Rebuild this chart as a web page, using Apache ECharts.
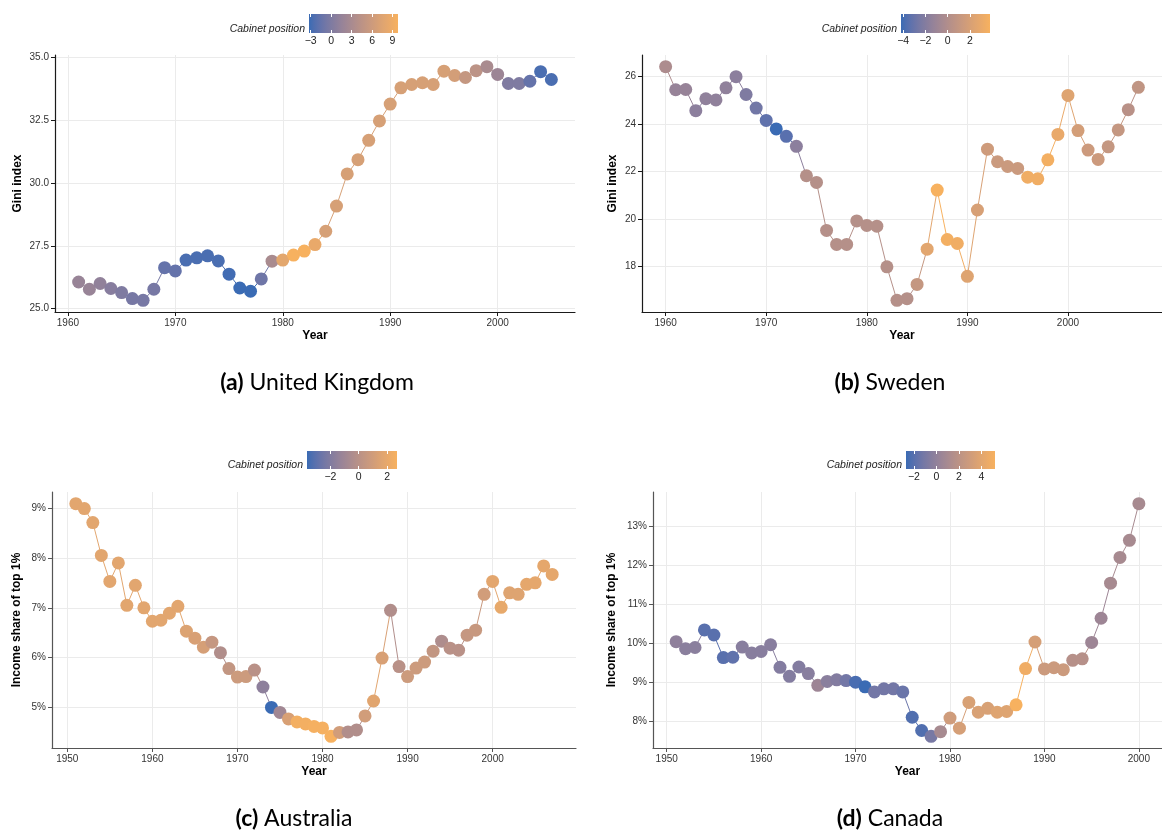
<!DOCTYPE html>
<html><head><meta charset="utf-8">
<script src="https://cdn.jsdelivr.net/npm/echarts@6/dist/echarts.min.js"></script>
<style>html,body{margin:0;padding:0;background:#fff}#c{width:1162px;height:834px}</style>
</head><body><div id="c"></div>
<script>
// ---------------- DATA ----------------
const ukYears = [1961,1962,1963,1964,1965,1966,1967,1968,1969,1970,1971,1972,1973,1974,1975,1976,1977,1978,1979,1980,1981,1982,1983,1984,1985,1986,1987,1988,1989,1990,1991,1992,1993,1994,1995,1996,1997,1998,1999,2000,2001,2002,2003,2004,2005];
const ukGini = [26.06,25.77,26.00,25.80,25.64,25.40,25.33,25.77,26.63,26.50,26.93,27.02,27.10,26.90,26.37,25.82,25.69,26.18,26.89,26.93,27.13,27.29,27.55,28.08,29.08,30.36,30.93,31.70,32.47,33.14,33.79,33.92,33.99,33.92,34.45,34.28,34.20,34.47,34.63,34.32,33.96,33.96,34.05,34.43,34.12];
const ukCabinet = [1.7,1.7,1.2,0.5,0.0,-0.5,-0.5,-0.5,-1.5,-1.5,-2.7,-2.7,-2.7,-2.7,-3.0,-3.25,-3.25,-1.0,3.0,8.0,9.8,9.8,8.5,6.8,6.8,6.8,6.8,6.8,6.8,6.8,6.8,6.8,6.8,6.8,6.8,6.5,5.2,4.5,3.0,2.0,0.0,0.0,-1.5,-2.7,-2.7];

const seYears = [1960,1961,1962,1963,1964,1965,1966,1967,1968,1969,1970,1971,1972,1973,1974,1975,1976,1977,1978,1979,1980,1981,1982,1983,1984,1985,1986,1987,1988,1989,1990,1991,1992,1993,1994,1995,1996,1997,1998,1999,2000,2001,2002,2003,2004,2005,2006,2007];
const seGini = [26.41,25.44,25.45,24.56,25.06,25.01,25.52,25.99,25.24,24.67,24.15,23.79,23.48,23.06,21.82,21.54,19.52,18.93,18.93,19.92,19.73,19.70,17.99,16.58,16.65,17.25,18.73,21.22,19.14,18.97,17.59,20.38,22.94,22.41,22.21,22.13,21.76,21.69,22.49,23.56,25.20,23.72,22.90,22.51,23.04,23.75,24.60,25.54];
const seCabinet = [-0.2,-1.2,-1.2,-1.7,-1.5,-1.5,-1.5,-1.7,-2.2,-2.7,-3.3,-4.2,-3.5,-1.7,0.2,0.2,0.2,0.2,0.2,0.2,0.2,0.2,0.2,0.2,0.2,1.0,2.6,3.8,3.6,3.4,2.4,2.0,1.5,1.3,1.3,1.3,3.4,3.4,3.6,3.0,2.4,1.8,1.4,1.4,1.0,1.0,0.4,0.8];

const auYears = [1951,1952,1953,1954,1955,1956,1957,1958,1959,1960,1961,1962,1963,1964,1965,1966,1967,1968,1969,1970,1971,1972,1973,1974,1975,1976,1977,1978,1979,1980,1981,1982,1983,1984,1985,1986,1987,1988,1989,1990,1991,1992,1993,1994,1995,1996,1997,1998,1999,2000,2001,2002,2003,2004,2005,2006,2007];
const auTop1 = [9.09,8.99,8.71,8.05,7.53,7.90,7.05,7.45,7.00,6.73,6.75,6.89,7.03,6.53,6.39,6.21,6.31,6.10,5.78,5.61,5.62,5.75,5.41,5.00,4.90,4.77,4.71,4.67,4.62,4.59,4.42,4.50,4.51,4.55,4.83,5.13,5.99,6.95,5.82,5.62,5.79,5.91,6.13,6.33,6.19,6.15,6.45,6.55,7.27,7.53,7.01,7.30,7.27,7.47,7.50,7.84,7.67];
const auCabinet = [1.75,1.75,1.75,1.75,1.75,1.75,1.75,1.75,1.75,1.75,1.75,1.75,1.75,1.5,1.3,1.2,0.5,-0.3,0.4,0.8,0.8,0.0,-1.6,-3.65,-0.9,1.3,2.5,2.5,2.6,2.6,2.7,1.0,-0.3,-0.3,1.0,1.7,1.3,-0.3,0.0,0.8,0.8,0.8,0.4,-0.4,0.0,0.0,0.5,0.6,1.0,1.8,2.0,1.6,1.6,1.9,1.9,1.9,1.9];

const caYears = [1951,1952,1953,1954,1955,1956,1957,1958,1959,1960,1961,1962,1963,1964,1965,1966,1967,1968,1969,1970,1971,1972,1973,1974,1975,1976,1977,1978,1979,1980,1981,1982,1983,1984,1985,1986,1987,1988,1989,1990,1991,1992,1993,1994,1995,1996,1997,1998,1999,2000];
const caTop1 = [10.03,9.85,9.88,10.33,10.20,9.62,9.63,9.89,9.74,9.78,9.95,9.37,9.14,9.38,9.21,8.91,9.01,9.05,9.03,8.99,8.87,8.74,8.82,8.82,8.74,8.09,7.75,7.60,7.72,8.07,7.81,8.47,8.22,8.32,8.22,8.24,8.41,9.34,10.02,9.33,9.36,9.31,9.55,9.59,10.01,10.63,11.53,12.19,12.63,13.57];
const caCabinet = [-0.1,-0.3,-0.3,-2.0,-2.0,-2.0,-1.8,-0.4,-0.4,-0.4,-0.4,-0.6,-0.6,-0.6,-0.4,0.5,-0.3,-0.6,-1.2,-2.4,-2.7,-1.2,-1.2,-1.2,-1.5,-2.2,-2.2,-1.0,1.0,3.0,3.3,3.5,3.5,3.5,3.8,3.8,5.2,4.8,3.3,2.8,2.8,2.8,1.7,1.7,0.5,0.5,1.0,1.0,1.0,1.0];

// tick labels
const ukYearTicks = [1960,1970,1980,1990,2000];
const seYearTicks = [1960,1970,1980,1990,2000];
const auYearTicks = [1950,1960,1970,1980,1990,2000];
const caYearTicks = [1950,1960,1970,1980,1990,2000];
const ukValTicks = [25.0,27.5,30.0,32.5,35.0];
const seValTicks = [18,20,22,24,26];
const auValTicks = [5,6,7,8,9];
const caValTicks = [8,9,10,11,12,13];
const ukCabTicks = [-3,0,3,6,9];
const seCabTicks = [-4,-2,0,2];
const auCabTicks = [-2,0,2];
const caCabTicks = [-2,0,2,4];

// ---------------- COLOUR (Lab interpolation) ----------------
const LOW = '#3A6BB4', HIGH = '#F7B15F';
function hex2rgb(h){h=h.replace('#','');return [0,2,4].map(i=>parseInt(h.substr(i,2),16));}
function toLin(c){c/=255;return c<=0.04045?c/12.92:Math.pow((c+0.055)/1.055,2.4);}
function fromLin(c){c=c<=0.0031308?12.92*c:1.055*Math.pow(c,1/2.4)-0.055;return Math.max(0,Math.min(255,Math.round(c*255)));}
function rgb2lab(rgb){const [r,g,b]=rgb.map(toLin);const X=(0.4124*r+0.3576*g+0.1805*b)/0.95047,Y=(0.2126*r+0.7152*g+0.0722*b),Z=(0.0193*r+0.1192*g+0.9505*b)/1.08883;const f=t=>t>0.008856?Math.cbrt(t):7.787*t+16/116;const fx=f(X),fy=f(Y),fz=f(Z);return [116*fy-16,500*(fx-fy),200*(fy-fz)];}
function lab2rgb(L,a,b){const fy=(L+16)/116,fx=fy+a/500,fz=fy-b/200;const fi=t=>t*t*t>0.008856?t*t*t:(t-16/116)/7.787;const X=fi(fx)*0.95047,Y=fi(fy),Z=fi(fz)*1.08883;const r=3.2406*X-1.5372*Y-0.4986*Z,g=-0.9689*X+1.8758*Y+0.0415*Z,bb=0.0557*X-0.2040*Y+1.0570*Z;return 'rgb('+[r,g,bb].map(fromLin).join(',')+')';}
const LAB_LO = rgb2lab(hex2rgb(LOW)), LAB_HI = rgb2lab(hex2rgb(HIGH));
function ramp(t){t=Math.max(0,Math.min(1,t));return lab2rgb(LAB_LO[0]+(LAB_HI[0]-LAB_LO[0])*t,LAB_LO[1]+(LAB_HI[1]-LAB_LO[1])*t,LAB_LO[2]+(LAB_HI[2]-LAB_LO[2])*t);}

// ---------------- PANELS ----------------
const FONT = '"Liberation Sans", Arial, Helvetica, sans-serif';
const CAPFONT = 'Lato, "Open Sans", sans-serif';
const panels = [
  {years:ukYears, vals:ukGini, cab:ukCabinet, xt:ukYearTicks, yt:ukValTicks, ct:ukCabTicks, yname:'Gini index', fmt:v=>v.toFixed(1),
   grid:{left:55,top:55,width:520,height:257}, bar:{left:309,top:14,width:89,height:19}, nameGap:31, axisColor:'#1a1a1a',
   lab:'(a)', cap:'United Kingdom', capX:317, capY:383},
  {years:seYears, vals:seGini, cab:seCabinet, xt:seYearTicks, yt:seValTicks, ct:seCabTicks, yname:'Gini index', fmt:v=>String(v),
   grid:{left:642,top:55,width:528,height:257}, bar:{left:901,top:14,width:89,height:19}, nameGap:23, axisColor:'#1a1a1a',
   lab:'(b)', cap:'Sweden', capX:890, capY:383},
  {years:auYears, vals:auTop1, cab:auCabinet, xt:auYearTicks, yt:auValTicks, ct:auCabTicks, yname:'Income share of top 1%', fmt:v=>v+'%',
   grid:{left:52,top:492,width:524,height:256}, bar:{left:307,top:451,width:90,height:18}, nameGap:29, axisColor:'#555',
   lab:'(c)', cap:'Australia', capX:294, capY:819},
  {years:caYears, vals:caTop1, cab:caCabinet, xt:caYearTicks, yt:caValTicks, ct:caCabTicks, yname:'Income share of top 1%', fmt:v=>v+'%',
   grid:{left:653,top:492,width:519,height:256}, bar:{left:906,top:451,width:89,height:18}, nameGap:35, axisColor:'#555',
   lab:'(d)', cap:'Canada', capX:890, capY:819}
];

const grid=[], xAxis=[], yAxis=[], series=[], graphic=[];
const minus = v => String(v).replace('-', '\u2212');
const gstops=[]; for(let s=0;s<=20;s++) gstops.push({offset:s/20, color:ramp(s/20)});

panels.forEach((p)=>{
  const xmin=Math.min(...p.years), xmax=Math.max(...p.years), xr=xmax-xmin;
  const ymin=Math.min(...p.vals), ymax=Math.max(...p.vals), yr=ymax-ymin;
  const cmin=Math.min(...p.cab), cmax=Math.max(...p.cab);
  const colors = p.cab.map(c=>ramp((c-cmin)/(cmax-cmin)));

  // main plot
  const g = grid.length;
  grid.push(Object.assign({containLabel:false}, p.grid));
  const xi = xAxis.length;
  xAxis.push({type:'value', gridIndex:g, min:xmin-0.05*xr, max:xmax+0.05*xr,
    name:'Year', nameLocation:'middle', nameGap:18,
    nameTextStyle:{fontWeight:'bold', fontSize:12, color:'#000', fontFamily:FONT},
    axisLine:{show:true, onZero:false, lineStyle:{color:p.axisColor, width:1.2}},
    axisTick:{show:true, length:4, customValues:p.xt, lineStyle:{color:p.axisColor}},
    axisLabel:{customValues:p.xt, fontSize:10, color:'#333', margin:6, fontFamily:FONT, formatter:v=>String(v)},
    splitLine:{show:true, lineStyle:{color:'#ebebeb', width:1}}});
  const yi = yAxis.length;
  yAxis.push({type:'value', gridIndex:g, min:ymin-0.05*yr, max:ymax+0.05*yr,
    name:p.yname, nameLocation:'middle', nameGap:p.nameGap, nameRotate:90,
    nameTextStyle:{fontWeight:'bold', fontSize:12, color:'#000', fontFamily:FONT},
    axisLine:{show:true, onZero:false, lineStyle:{color:p.axisColor, width:1.2}},
    axisTick:{show:true, length:4, customValues:p.yt, lineStyle:{color:p.axisColor}},
    axisLabel:{customValues:p.yt, fontSize:10, color:'#333', margin:6, fontFamily:FONT, formatter:p.fmt},
    splitLine:{show:true, lineStyle:{color:'#ebebeb', width:1}}});

  const stops=[];
  for(let k=0;k<p.years.length-1;k++){
    stops.push({offset:(p.years[k]-xmin)/xr, color:colors[k]});
    stops.push({offset:(p.years[k+1]-xmin)/xr, color:colors[k]});
  }
  series.push({type:'line', xAxisIndex:xi, yAxisIndex:yi, animation:false, silent:true,
    symbol:'circle', symbolSize:13, showSymbol:true, showAllSymbol:true,
    lineStyle:{width:1, color:{type:'linear', x:0, y:0, x2:1, y2:0, colorStops:stops}},
    emphasis:{disabled:true},
    data:p.years.map((y,k)=>({value:[y,p.vals[k]], itemStyle:{color:colors[k]}}))});

  // colour bar
  const gb = grid.length;
  grid.push(Object.assign({show:true, borderWidth:0,
    backgroundColor:{type:'linear', x:0, y:0, x2:1, y2:0, colorStops:gstops}}, p.bar));
  xAxis.push({type:'value', gridIndex:gb, position:'bottom', min:cmin, max:cmax,
    axisLine:{show:false}, splitLine:{show:false},
    axisTick:{show:true, inside:true, length:3, customValues:p.ct, lineStyle:{color:'#fff', width:1}},
    axisLabel:{customValues:p.ct, fontSize:10.5, color:'#222', margin:3, fontFamily:FONT, formatter:minus}});
  xAxis.push({type:'value', gridIndex:gb, position:'top', min:cmin, max:cmax,
    axisLine:{show:false}, splitLine:{show:false},
    axisTick:{show:true, inside:true, length:3, customValues:p.ct, lineStyle:{color:'#fff', width:1}},
    axisLabel:{show:false}});
  yAxis.push({type:'value', gridIndex:gb, min:0, max:1, show:false});

  graphic.push({type:'text', x:p.bar.left-4, y:p.bar.top+p.bar.height*0.78,
    style:{text:'Cabinet position', fontSize:10.5, fontStyle:'italic', fontFamily:FONT, fill:'#222',
      textAlign:'right', textVerticalAlign:'middle', align:'right', verticalAlign:'middle'}});
  graphic.push({type:'text', x:p.capX, y:p.capY,
    style:{text:'{b|'+p.lab+'} '+p.cap, fontSize:23, fontFamily:CAPFONT, fill:'#000',
      rich:{b:{fontWeight:'bold', fontSize:23, fontFamily:CAPFONT, fill:'#000'}},
      textAlign:'center', textVerticalAlign:'middle', align:'center', verticalAlign:'middle'}});
});

const chart = echarts.init(document.getElementById('c'), null, {renderer:'canvas'});
chart.setOption({animation:false, backgroundColor:'#fff', grid, xAxis, yAxis, series, graphic});
</script></body></html>
